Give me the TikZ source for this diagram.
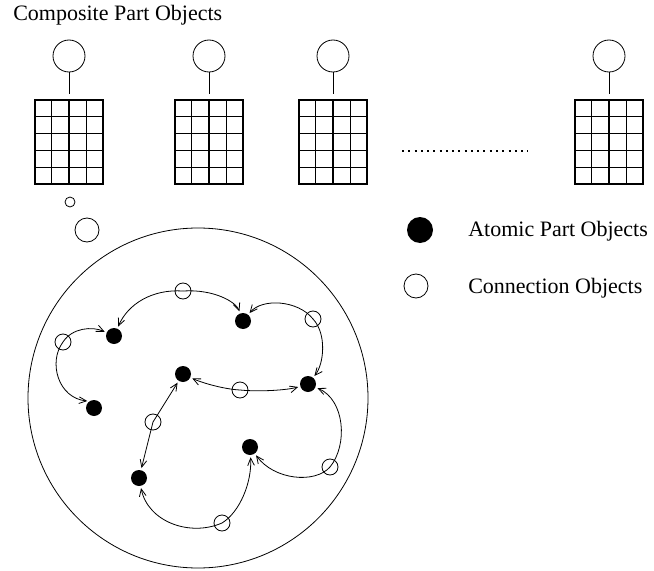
\documentclass[tikz,border=0pt]{standalone}
\usepackage{fontspec}
\setmainfont{Liberation Serif}
\usetikzlibrary{arrows.meta,calc}

\tikzset{
  atom/.style={circle, fill=black, inner sep=0pt, minimum size=12pt},
  conn/.style={circle, draw, line width=0.6pt, inner sep=0pt, minimum size=12pt},
  head/.style={circle, draw, line width=0.6pt, inner sep=0pt, minimum size=24pt},
  bubble/.style={circle, draw, line width=0.6pt, inner sep=0pt},
  gridbox/.style={rectangle, draw, line width=0.9pt, inner sep=0pt,
                  minimum width=51pt, minimum height=63pt},
  cell/.style={line width=0.8pt},
  stem/.style={line width=0.6pt, shorten >=3.75pt},
  link/.style={line width=0.6pt, -{Straight Barb[length=5.5pt,width=5pt]}, shorten >=1.5pt},
  label/.style={anchor=base west, inner sep=0pt, font=\fontsize{16.5}{20}\selectfont},
}

\begin{document}
\begin{tikzpicture}[x=0.75pt, y=-0.75pt]
\useasboundingbox (0,0) rectangle (654,571);

% title
\node[label] (title) at (13,21) {Composite Part Objects};

% composite parts: a header circle above a 4x5 grid
\foreach \i/\x in {1/35,2/175,3/299,4/575} {
  \node[gridbox] (g\i) at (\x+34,142) {};
  \node[head] (h\i) at (\x+34,56) {};
  \draw[stem] (h\i) -- (g\i);
  \foreach \k in {1,2,3}
    \draw[cell] ($(g\i.north west)!\k/4!(g\i.north east)$) -- ($(g\i.south west)!\k/4!(g\i.south east)$);
  \foreach \k in {1,2,3,4}
    \draw[cell] ($(g\i.north west)!\k/5!(g\i.south west)$) -- ($(g\i.north east)!\k/5!(g\i.south east)$);
}

% ellipsis between the composite parts
\coordinate (dotsL) at (402,151);
\coordinate (dotsR) at (528,151);
\draw[line width=1.5pt, dash pattern=on 1.5pt off 3.2pt] (dotsL) -- (dotsR);

% thought bubbles leading to the expanded part
\node[bubble, minimum size=7.5pt] (b1) at (70,202) {};
\node[bubble, minimum size=18pt] (b2) at (87,230) {};
\node[circle, draw, line width=0.6pt, inner sep=0pt, minimum size=255pt] (cluster) at (198,398) {};

% legend
\node[atom, minimum size=19.5pt] (legA) at (420,230) {};
\node[label] (legAtxt) at (468,236) {Atomic Part Objects};
\node[conn, minimum size=18pt] (legC) at (416,286) {};
\node[label] (legCtxt) at (468,293) {Connection Objects};

% atomic parts
\node[atom] (A1) at (114,336) {};
\node[atom] (A2) at (243,321) {};
\node[atom] (A3) at (183,374) {};
\node[atom] (A4) at (308,384) {};
\node[atom] (A5) at (94,408) {};
\node[atom] (A6) at (250,447) {};
\node[atom] (A7) at (139,478) {};

% connections
\node[conn] (C1) at (183,291) {};
\node[conn] (C2) at (313,319) {};
\node[conn] (C3) at (63,342) {};
\node[conn] (C4) at (240,390) {};
\node[conn] (C5) at (153,422) {};
\node[conn] (C6) at (330,467) {};
\node[conn] (C7) at (222,523) {};

% connection links
\draw[link] (C1.center) .. controls (152,289) and (128,304) .. (A1);
\draw[link] (C1.center) .. controls (214,289) and (236,302) .. (A2);
\draw[link] (C2.center) .. controls (298,300) and (262,298) .. (A2);
\draw[link] (C2.center) .. controls (327,334) and (324,364) .. (A4);
\draw[link] (C3.center) .. controls (72,328) and (92,326) .. (A1);
\draw[link] (C3.center) .. controls (48,362) and (58,398) .. (A5.125);
\draw[link] (C4.center) .. controls (222,389) and (200,382) .. (A3);
\draw[link] (C4.center) .. controls (260,392) and (288,390) .. (A4);
\draw[link] (C5.center) -- (A3);
\draw[link] (C5.center) -- (A7);
\draw[link] (C6.center) .. controls (348,445) and (345,400) .. (A4);
\draw[link] (C6.center) .. controls (315,484) and (274,480) .. (A6);
\draw[link] (C7.center) .. controls (190,537) and (148,522) .. (A7);
\draw[link] (C7.center) .. controls (240,512) and (252,482) .. (A6);
\end{tikzpicture}
\end{document}
